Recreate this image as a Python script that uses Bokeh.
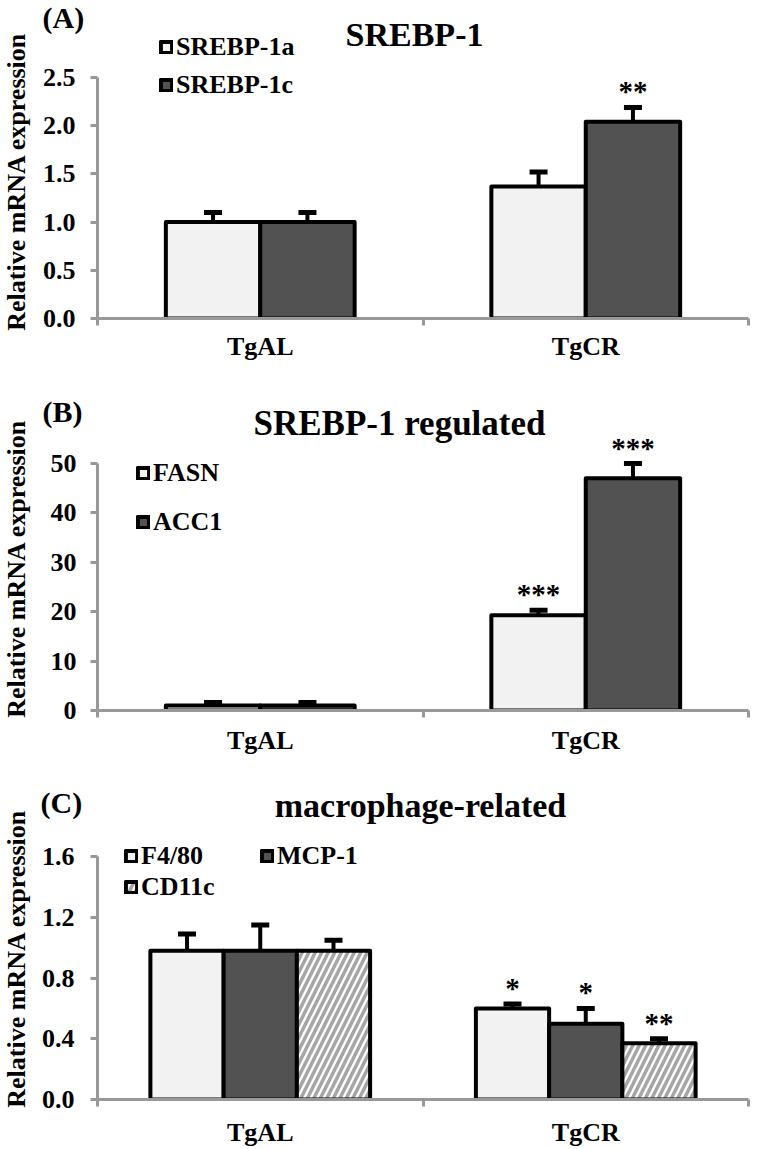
import numpy as np
import pandas as pd
from bokeh.plotting import figure
from bokeh.models import (ColumnDataSource, FactorRange, Range1d, LinearAxis, CategoricalAxis,
                          FixedTicker, NumeralTickFormatter, Label, GridBox)
from bokeh.transform import dodge
from bokeh.layouts import column
from bokeh.embed import file_html
from bokeh.resources import INLINE
from bokeh.core.properties import value

# ---------------- data ----------------
categories = ["TgAL", "TgCR"]

# (A) SREBP-1
a_names = ["SREBP-1a", "SREBP-1c"]
a_srebp1a = [1.00, 1.37]
a_srebp1a_err = [0.10, 0.15]
a_srebp1a_sig = ["", ""]
a_srebp1c = [1.00, 2.04]
a_srebp1c_err = [0.10, 0.15]
a_srebp1c_sig = ["", "**"]
a_yticks = [0.0, 0.5, 1.0, 1.5, 2.0, 2.5]

# (B) SREBP-1 regulated
b_names = ["FASN", "ACC1"]
b_fasn = [1.0, 19.3]
b_fasn_err = [0.6, 1.0]
b_fasn_sig = ["", "***"]
b_acc1 = [1.0, 47.0]
b_acc1_err = [0.6, 3.0]
b_acc1_sig = ["", "***"]
b_yticks = [0, 10, 20, 30, 40, 50]

# (C) macrophage-related
c_names = ["F4/80", "MCP-1", "CD11c"]
c_f480 = [0.98, 0.60]
c_f480_err = [0.11, 0.03]
c_f480_sig = ["", "*"]
c_mcp1 = [0.98, 0.50]
c_mcp1_err = [0.17, 0.10]
c_mcp1_sig = ["", "*"]
c_cd11c = [0.98, 0.37]
c_cd11c_err = [0.07, 0.03]
c_cd11c_sig = ["", "**"]
c_yticks = [0.0, 0.4, 0.8, 1.2, 1.6]

# ---------------- style ----------------
FONT = "Liberation Serif"
W = 781
TOTAL_H = 1149
GRAY = "#999999"
LIGHT = "#F2F2F2"
DARK = "#525252"


def make_panel(g, yticks, yfmt, series, bar_w, legend_cfg):
    T, H, L, R, FTICK, FB = g["T"], g["H"], g["L"], g["R"], g["FTICK"], g["FB"]
    ytop_tick = yticks[-1]
    # frame spans from figure top to FB; top tick sits at pixel FTICK
    y_end = ytop_tick * (FB - T) / (FB - FTICK)
    p = figure(width=W, height=H,
               x_range=FactorRange(factors=categories), y_range=Range1d(0, y_end),
               output_backend="svg", toolbar_location=None,
               x_axis_location=None, y_axis_location="left",
               min_border_left=L, min_border_right=W - R,
               min_border_top=0, min_border_bottom=T + H - FB)
    p.outline_line_color = None
    p.grid.visible = False
    p.background_fill_color = None
    p.border_fill_color = None

    ncat = len(categories)

    # y axis
    ya = p.yaxis[0]
    ya.bounds = (0, ytop_tick)
    ya.ticker = FixedTicker(ticks=yticks)
    ya.formatter = NumeralTickFormatter(format=yfmt)
    ya.minor_tick_line_color = None
    ya.major_tick_in = 0
    ya.major_tick_out = 7
    ya.axis_line_color = GRAY
    ya.axis_line_width = 3
    ya.major_tick_line_color = GRAY
    ya.major_tick_line_width = 3
    ya.major_label_text_font = FONT
    ya.major_label_text_font_style = "bold"
    ya.major_label_text_font_size = "26px"
    ya.major_label_text_color = "black"
    ya.major_label_standoff = g["ystand"]

    # x axis line with ticks at category boundaries (synthetic coordinates)
    xt = LinearAxis(ticker=FixedTicker(ticks=list(range(ncat + 1))),
                    major_label_text_font_size="1px", major_label_text_color=None,
                    major_label_standoff=0,
                    major_tick_out=7, major_tick_in=0, minor_tick_line_color=None,
                    axis_line_color=GRAY, axis_line_width=3,
                    major_tick_line_color=GRAY, major_tick_line_width=3)
    p.add_layout(xt, "below")
    xc = CategoricalAxis(major_tick_line_color=None, axis_line_color=None,
                         major_tick_out=0, major_tick_in=0,
                         major_label_text_font=FONT, major_label_text_font_style="bold",
                         major_label_text_font_size="26px", major_label_text_color="black",
                         major_label_standoff=g["xstand"])
    p.add_layout(xc, "below")

    n = len(series)
    for i, s in enumerate(series):
        off = (i - (n - 1) / 2) * bar_w
        df = pd.DataFrame(dict(cat=categories, val=s["val"], err=s["err"], sig=s["sig"]))
        df["top"] = df["val"] + df["err"]
        src = ColumnDataSource(df)
        sig_src = ColumnDataSource(df[df["sig"] != ""])
        kw = dict(fill_color=s["fill"], line_color="black", line_width=4, line_join="round")
        if s.get("hatch"):
            kw.update(hatch_pattern="/", hatch_color="#A6A6A6", hatch_weight=3.5, hatch_scale=13)
        p.vbar(x=dodge("cat", off, range=p.x_range), top="val", width=bar_w, source=src,
               legend_label=s["name"], **kw)
        p.segment(x0=dodge("cat", off, range=p.x_range), y0="val",
                  x1=dodge("cat", off, range=p.x_range), y1="top",
                  source=src, line_color="black", line_width=4)
        p.scatter(x=dodge("cat", off, range=p.x_range), y="top", marker="dash", size=18,
                  line_color="black", line_width=5, source=src)
        p.text(x=dodge("cat", off, range=p.x_range), y="top", text="sig", source=sig_src,
               text_font=value(FONT), text_font_style="bold", text_font_size="29px",
               text_align="center", text_baseline="bottom", text_color="black")

    # legend
    lg = p.legend[0]
    lg.location = legend_cfg["loc"]
    lg.orientation = legend_cfg.get("orientation", "vertical")
    if "ncols" in legend_cfg:
        lg.ncols = legend_cfg["ncols"]
    lg.glyph_width = 14
    lg.glyph_height = 14
    lg.label_standoff = 3
    lg.label_text_font = FONT
    lg.label_text_font_style = "bold"
    lg.label_text_font_size = "26px"
    lg.label_text_color = "black"
    lg.label_width = legend_cfg.get("label_width", 20)
    lg.padding = 0
    lg.margin = 0
    lg.spacing = legend_cfg["spacing"]
    lg.background_fill_alpha = 0
    lg.border_line_color = None
    return p


pa = make_panel(dict(T=0, H=378, L=87, R=762, FTICK=77, FB=318, ystand=15, xstand=6),
                a_yticks, "0.0",
                [dict(name=a_names[0], val=a_srebp1a, err=a_srebp1a_err, sig=a_srebp1a_sig, fill=LIGHT),
                 dict(name=a_names[1], val=a_srebp1c, err=a_srebp1c_err, sig=a_srebp1c_sig, fill=DARK)],
                0.29, dict(loc=(62, 218), spacing=8))

pb = make_panel(dict(T=378, H=390, L=88, R=748, FTICK=463, FB=710, ystand=14, xstand=8),
                b_yticks, "0",
                [dict(name=b_names[0], val=b_fasn, err=b_fasn_err, sig=b_fasn_sig, fill=LIGHT),
                 dict(name=b_names[1], val=b_acc1, err=b_acc1_err, sig=b_acc1_sig, fill=DARK)],
                0.29, dict(loc=(39, 173), spacing=19))

pc = make_panel(dict(T=768, H=381, L=97, R=780, FTICK=857, FB=1102, ystand=16, xstand=11),
                c_yticks, "0.0",
                [dict(name=c_names[0], val=c_f480, err=c_f480_err, sig=c_f480_sig, fill=LIGHT),
                 dict(name=c_names[1], val=c_mcp1, err=c_mcp1_err, sig=c_mcp1_sig, fill=DARK),
                 dict(name=c_names[2], val=c_cd11c, err=c_cd11c_err, sig=c_cd11c_sig, fill="white", hatch=True)],
                0.225, dict(loc=(27, 197), spacing=1, orientation="horizontal", ncols=2, label_width=118))

panels = column(pa, pb, pc, spacing=0)

# transparent overlay holding the panel letters, titles and y-axis titles (page pixel coordinates)
ov = figure(width=W, height=TOTAL_H, x_range=Range1d(0, W), y_range=Range1d(TOTAL_H, 0),
            output_backend="svg", toolbar_location=None,
            x_axis_location=None, y_axis_location=None, min_border=0)
ov.outline_line_color = None
ov.grid.visible = False
ov.background_fill_color = None
ov.border_fill_color = None

panel_titles = [
    # (letter, letter_x, letter_cy, title, title_cx, title_cy, title_size, ylabel_cy)
    ("(A)", 42, 17, "SREBP-1", 414, 34, "34px", 181),
    ("(B)", 42, 411, "SREBP-1 regulated", 399, 423, "35px", 568),
    ("(C)", 40, 802, "macrophage-related", 420, 805, "34px", 958),
]
for letter, lx, lcy, title, tcx, tcy, tsize, ycy in panel_titles:
    ov.add_layout(Label(x=lx, y=lcy, text=letter, text_font=FONT, text_font_style="bold",
                        text_font_size="30px", text_align="left", text_baseline="middle",
                        text_color="black"))
    ov.add_layout(Label(x=tcx, y=tcy, text=title, text_font=FONT, text_font_style="bold",
                        text_font_size=tsize, text_align="center", text_baseline="middle",
                        text_color="black"))
    ov.add_layout(Label(x=16, y=ycy, text="Relative mRNA expression", angle=np.pi / 2,
                        text_font=FONT, text_font_style="bold", text_font_size="26px",
                        text_align="center", text_baseline="middle", text_color="black"))

grid = GridBox(children=[(panels, 0, 0), (ov, 0, 0)])
open("out.html", "w").write(file_html(grid, INLINE))
